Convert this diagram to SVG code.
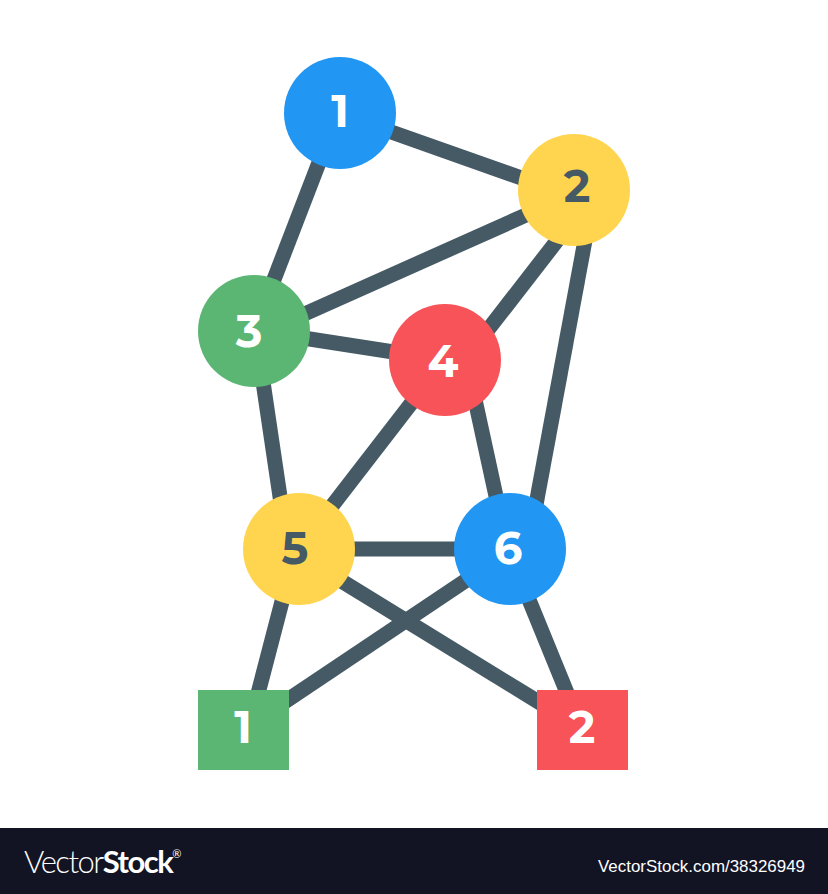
<svg xmlns="http://www.w3.org/2000/svg" width="828" height="894" viewBox="0 0 828 894">
<style>
.e{stroke:#455a64;stroke-width:15;fill:none}
.n{font-family:"Montserrat","Inter","Liberation Sans",sans-serif;font-size:45px;font-weight:700;text-anchor:middle}
.w{fill:#fff}.d{fill:#455a64}
.blue{fill:#2196f3}.yellow{fill:#ffd54f}.green{fill:#5bb673}.red{fill:#f75358}
.logo{font-family:"Lato","Liberation Sans",sans-serif;fill:#fff}
</style>
<rect width="828" height="894" fill="#fff"/>
<g id="connectors" class="e">
<line x1="380" y1="128" x2="530" y2="181"/>
<line x1="325" y1="147" x2="268" y2="295"/>
<line x1="300" y1="316" x2="535" y2="211"/>
<line x1="563" y1="233" x2="480" y2="340"/>
<line x1="586" y1="235" x2="535" y2="510"/>
<line x1="300" y1="337.5" x2="400" y2="353"/>
<line x1="262" y1="375" x2="282" y2="510"/>
<line x1="420" y1="392" x2="325" y2="515"/>
<line x1="474" y1="395" x2="499" y2="510"/>
<line x1="340" y1="549" x2="470" y2="549"/>
<line x1="285" y1="590" x2="255" y2="705"/>
<line x1="335" y1="577" x2="550" y2="709"/>
<line x1="480" y1="571" x2="280" y2="705"/>
<line x1="523" y1="585" x2="572" y2="705"/>
</g>
<g id="node-1"><circle class="blue" cx="340" cy="113" r="56"/><text class="n w" x="340" y="127">1</text></g>
<g id="node-2"><circle class="yellow" cx="574" cy="190" r="56"/><text class="n d" x="577" y="202">2</text></g>
<g id="node-3"><circle class="green" cx="254" cy="331" r="56"/><text class="n w" x="249" y="347">3</text></g>
<g id="node-4"><circle class="red" cx="445" cy="360" r="56"/><text class="n w" x="443" y="377">4</text></g>
<g id="node-5"><circle class="yellow" cx="299" cy="549" r="56"/><text class="n d" x="295" y="564">5</text></g>
<g id="node-6"><circle class="blue" cx="510" cy="549" r="56"/><text class="n w" x="508" y="564">6</text></g>
<g id="square-1"><rect class="green" x="198" y="690" width="91" height="80"/><text class="n w" x="243" y="743">1</text></g>
<g id="square-2"><rect class="red" x="537" y="690" width="91" height="80"/><text class="n w" x="582" y="743">2</text></g>
<g id="footer">
<rect y="828" width="828" height="66" fill="#121424"/>
<text class="logo" x="24" y="873" font-size="31" letter-spacing="-1.5"><tspan font-weight="300">Vector</tspan><tspan font-weight="700">Stock</tspan><tspan font-size="11" dy="-15" letter-spacing="0">®</tspan></text>
<text x="598" y="872" font-family="'Liberation Sans',sans-serif" font-size="16.5" fill="#fff" textLength="207" lengthAdjust="spacingAndGlyphs">VectorStock.com/38326949</text>
</g>
</svg>
